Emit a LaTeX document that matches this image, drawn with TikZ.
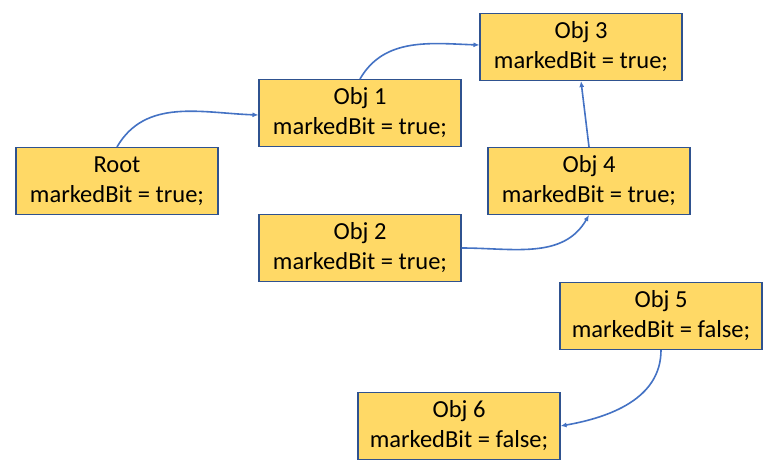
\documentclass[tikz,border=0pt]{standalone}
\usepackage{fontspec}
\setmainfont{Carlito}
\usetikzlibrary{arrows.meta,positioning}
\definecolor{BoxFill}{HTML}{FFD966}
\definecolor{BoxLine}{HTML}{2F528F}
\definecolor{Link}{HTML}{4472C4}
\tikzset{
  objbox/.style={rectangle, draw=BoxLine, fill=BoxFill, line width=1.1pt, minimum width=202pt, minimum height=67pt, inner sep=0pt, align=center, font=\fontsize{24.5}{30}\selectfont},
  refarrow/.style={-{Latex[length=6pt,width=5pt]}, line width=1.6pt, draw=Link},
}
\begin{document}
\begin{tikzpicture}[x=1pt,y=-1pt]
\path[use as bounding box,fill=white] (0,0) rectangle (771,472);

\node[objbox] (root) at (117,181) {Root\\markedBit = true;};
\node[objbox] (obj1) at (360,113) {Obj 1\\markedBit = true;};
\node[objbox] (obj3) at (581,47) {Obj 3\\markedBit = true;};
\node[objbox] (obj4) at (589,181) {Obj 4\\markedBit = true;};
\node[objbox] (obj2) at (360,248) {Obj 2\\markedBit = true;};
\node[objbox] (obj5) at (661,316) {Obj 5\\markedBit = false;};
\node[objbox] (obj6) at (459,426) {Obj 6\\markedBit = false;};

\draw[refarrow] (root.north) to[out=60,in=178] ([yshift=-2pt]obj1.west);
\draw[refarrow] (obj1.north) to[out=60,in=178] ([yshift=2pt]obj3.west);
\draw[refarrow] (obj4.north) -- (obj3.south);
\draw[refarrow] (obj2.east) to[out=0,in=-120] (obj4.south);
\draw[refarrow] (obj5.south) to[out=-90,in=10] (obj6.east);
\end{tikzpicture}
\end{document}
